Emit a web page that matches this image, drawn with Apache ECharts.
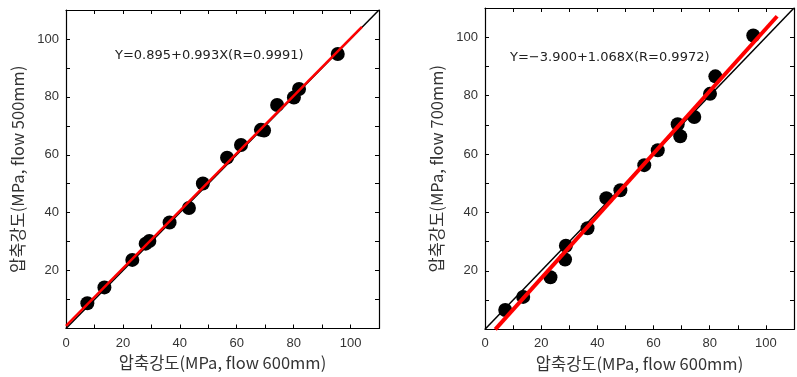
<!DOCTYPE html>
<html>
<head>
<meta charset="utf-8">
<script src="https://cdn.jsdelivr.net/npm/echarts@6/dist/echarts.min.js"></script>
<style>
  html, body { margin: 0; padding: 0; background: #fff; }
  #chart { width: 797px; height: 377px; }
</style>
</head>
<body>
<div id="chart"></div>
<script>
// flow 600mm 기준 압축강도 vs flow 500mm / 700mm
const x500 = [7.5, 13.5, 23.3, 28.0, 29.3, 36.4, 43.2, 48.1, 56.6, 61.5, 68.5, 69.6, 74.2, 80.1, 81.9, 95.5]
const y500 = [8.7, 14.2, 23.7, 29.3, 30.2, 36.6, 41.6, 50.1, 59.0, 63.4, 68.6, 68.4, 77.2, 79.8, 82.7, 94.8]
const x700 = [7.2, 13.6, 23.3, 28.5, 28.8, 36.5, 43.2, 48.2, 56.7, 61.5, 68.6, 69.5, 74.5, 80.1, 82.0, 95.5]
const y700 = [6.6, 11.1, 17.8, 23.9, 28.6, 34.6, 44.9, 47.6, 56.2, 61.3, 70.2, 66.1, 72.7, 80.6, 86.6, 100.6]

// 회귀식 [절편, 기울기], 직선 x 범위
const fit500 = [0.895, 0.993]
const fit700 = [-3.9, 1.068]
const range500 = [0, 104]
const range700 = [3.65, 104]
const refRange = [0, 110]

const eq500 = 'Y=0.895+0.993X(R=0.9991)'
const eq700 = 'Y=\u22123.900+1.068X(R=0.9972)'
const xTitle = '압축강도(MPa, flow 600mm)'
const yTitles = ['압축강도(MPa, flow 500mm)', '압축강도(MPa, flow 700mm)']

const pairs = (xs, ys) => xs.map((v, i) => [v, ys[i]])
const fitLine = (fit, r) => r.map(v => [v, fit[0] + fit[1] * v])

const font = '"Noto Sans CJK KR", "Noto Sans", sans-serif'
const labelFont = '"Liberation Sans", "DejaVu Sans", sans-serif'
const eqFont = '"DejaVu Sans", sans-serif'

const baseAxis = {
  type: 'value',
  min: 0,
  max: 110,
  interval: 10,
  splitLine: { show: false },
  axisLine: { show: true, onZero: false, lineStyle: { color: '#000', width: 1.2 } },
  axisTick: { show: true, inside: true, length: 4, lineStyle: { color: '#000' } },
}

const xMain = (gi) => ({
  ...baseAxis,
  gridIndex: gi,
  position: 'bottom',
  name: xTitle,
  nameLocation: 'middle',
  nameGap: 26,
  nameTextStyle: { fontFamily: font, fontSize: 16.5, color: '#333' },
  axisLabel: {
    color: '#333', fontSize: 13, fontFamily: labelFont, margin: 8,
    formatter: v => (v % 20 === 0 && v <= 100 ? String(v) : ''),
  },
})
const xTop = (gi) => ({ ...baseAxis, gridIndex: gi, position: 'top', axisLabel: { show: false } })
const yMain = (gi) => ({
  ...baseAxis,
  gridIndex: gi,
  position: 'left',
  name: yTitles[gi],
  nameLocation: 'middle',
  nameGap: 40,
  nameTextStyle: { fontFamily: font, fontSize: 16.5, color: '#333' },
  axisLabel: {
    color: '#333', fontSize: 13, fontFamily: labelFont, margin: 7,
    formatter: v => (v % 20 === 0 && v > 0 && v <= 100 ? String(v) : ''),
  },
})
const yRight = (gi) => ({ ...baseAxis, gridIndex: gi, position: 'right', axisLabel: { show: false } })

const seriesFor = (gi, pts, fit, range, redWidth) => [
  {
    type: 'scatter', xAxisIndex: gi * 2, yAxisIndex: gi * 2,
    data: pts, symbolSize: 14, itemStyle: { color: '#000', opacity: 1 }, z: 2,
  },
  {
    type: 'line', xAxisIndex: gi * 2, yAxisIndex: gi * 2,
    data: fitLine([0, 1], refRange), symbol: 'none',
    lineStyle: { color: '#000', width: 1.5 }, z: 3,
  },
  {
    type: 'line', xAxisIndex: gi * 2, yAxisIndex: gi * 2,
    data: fitLine(fit, range), symbol: 'none',
    lineStyle: { color: '#ff0000', width: redWidth }, z: 4,
  },
]

const chart = echarts.init(document.getElementById('chart'))
chart.setOption({
  animation: false,
  backgroundColor: '#fff',
  grid: [
    { left: 66, width: 313, top: 10, height: 318.5 },
    { left: 485, width: 310.5, top: 8, height: 321.3 },
  ],
  xAxis: [xMain(0), xTop(0), xMain(1), xTop(1)],
  yAxis: [yMain(0), yRight(0), yMain(1), yRight(1)],
  series: [
    ...seriesFor(0, pairs(x500, y500), fit500, range500, 2.5),
    ...seriesFor(1, pairs(x700, y700), fit700, range700, 4),
  ],
  graphic: [
    { type: 'text', left: 115, top: 49, style: { text: eq500, font: '13px ' + eqFont, fill: '#222' } },
    { type: 'text', left: 510, top: 51, style: { text: eq700, font: '13px ' + eqFont, fill: '#222' } },
  ],
})
</script>
</body>
</html>
